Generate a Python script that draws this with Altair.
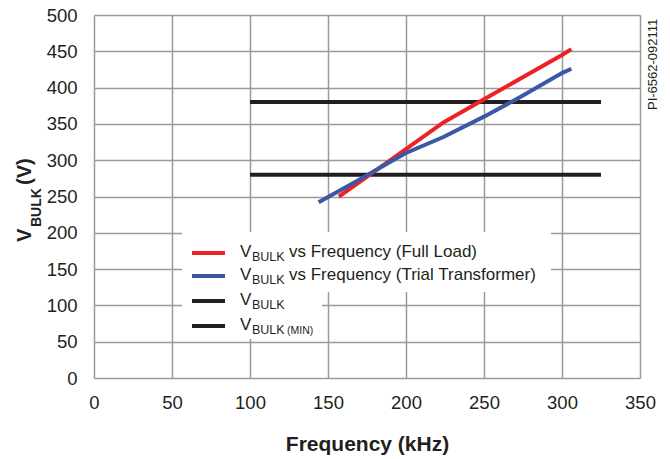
import altair as alt
import pandas as pd

# ---- data ----
red_freq = [157, 190, 224, 250, 300, 306]
red_v = [250, 300, 352, 384, 445, 453]
blue_freq = [144, 170, 190, 200, 224, 250, 275, 300, 306]
blue_v = [242, 273, 298, 310, 332, 360, 389, 420, 426]
vbulk_level = 380
vbulk_min_level = 280
level_start = 100
level_end = 325
x_ticks = [0, 50, 100, 150, 200, 250, 300, 350]
y_ticks = [0, 50, 100, 150, 200, 250, 300, 350, 400, 450, 500]

RED = "#ec2227"
BLUE = "#3b58a8"
BLACK = "#231f20"
FONT = "Liberation Sans"

red_df = pd.DataFrame({"f": red_freq, "v": red_v})
blue_df = pd.DataFrame({"f": blue_freq, "v": blue_v})
lvl_df = pd.DataFrame({"f": [level_start, level_start], "f2": [level_end, level_end],
                       "v": [vbulk_level, vbulk_min_level]})

xs = alt.Scale(domain=[0, 350], nice=False)
ys = alt.Scale(domain=[0, 500], nice=False)

xax = alt.Axis(values=x_ticks, grid=True, ticks=False, tickSize=0, domain=False,
               labelFontSize=18.5, labelFont=FONT, labelColor=BLACK, labelPadding=15,
               labelOverlap=False, labelFlush=False,
               title="Frequency (kHz)", titleFont=FONT, titleFontSize=21, titleFontWeight="bold",
               titleColor=BLACK, titlePadding=22, gridColor="#9a9a9a", gridWidth=1.5)
yax = alt.Axis(values=y_ticks, grid=True, ticks=False, tickSize=0, domain=False,
               labelFontSize=18.5, labelFont=FONT, labelColor=BLACK, labelPadding=17,
               labelOverlap=False, labelFlush=False,
               title=None, gridColor="#9a9a9a", gridWidth=1.5)

X = lambda f: alt.X(f, scale=xs, axis=xax, title="Frequency (kHz)")
Y = lambda f: alt.Y(f, scale=ys, axis=yax, title=None)

base_levels = alt.Chart(lvl_df).mark_rule(color=BLACK, strokeWidth=4, strokeCap="butt").encode(
    x=X("f:Q"), x2="f2:Q", y=Y("v:Q"))
red_line = alt.Chart(red_df).mark_line(color=RED, strokeWidth=4, strokeCap="butt").encode(
    x=X("f:Q"), y=Y("v:Q"))
blue_line = alt.Chart(blue_df).mark_line(color=BLUE, strokeWidth=4, strokeCap="butt").encode(
    x=X("f:Q"), y=Y("v:Q"))


def txt(t, x, y, size, weight="normal", angle=0, align="left", baseline="alphabetic", color=BLACK):
    return alt.Chart(pd.DataFrame({"t": [t]})).mark_text(
        font=FONT, fontSize=size, fontWeight=weight, angle=angle, align=align,
        baseline=baseline, color=color).encode(
        x=alt.value(x), y=alt.value(y), text="t:N")


def rect(x1, x2, y1, y2):
    return alt.Chart(pd.DataFrame({"a": [0]})).mark_rect(color="white").encode(
        x=alt.value(x1), x2=alt.value(x2), y=alt.value(y1), y2=alt.value(y2))


def swatch(y, color):
    return alt.Chart(pd.DataFrame({"a": [0]})).mark_rule(color=color, strokeWidth=4, strokeCap="butt").encode(
        x=alt.value(98), x2=alt.value(131), y=alt.value(y))


legend_layers = [rect(88, 457, 217, 277), rect(88, 228, 276, 324)]
rows = [(242, RED, " vs Frequency (Full Load)"), (265, BLUE, " vs Frequency (Trial Transformer)"),
        (290, BLACK, ""), (315, BLACK, "")]
for i, (by, col, rest) in enumerate(rows):
    legend_layers.append(swatch(by - 4, col))
    legend_layers.append(txt("V", 146, by, 17))
    legend_layers.append(txt("BULK", 158, by + 4, 12.5))
    if rest:
        legend_layers.append(txt(rest.strip(), 195, by, 17))
legend_layers.append(txt("(MIN)", 193, 315 + 4, 10.5))

ytitle = [
    txt("V", -63, 227, 20, weight="bold", angle=270),
    txt("BULK", -53, 212, 14, weight="bold", angle=270),
    txt("(V)", -63, 170, 20, weight="bold", angle=270),
]
pi = txt("PI-6562-092111", 559, 95, 13, angle=270, baseline="middle")

chart = alt.layer(base_levels, red_line, blue_line, *legend_layers, *ytitle, pi).properties(
    width=546, height=363,
    padding={"left": 94, "top": 15, "right": 30, "bottom": 81},
    autosize=alt.AutoSizeParams(type="none"),
).configure_view(stroke=BLACK, strokeWidth=2).configure(background="white")

chart.save("out.html", embed_options={"renderer": "svg", "actions": False})
